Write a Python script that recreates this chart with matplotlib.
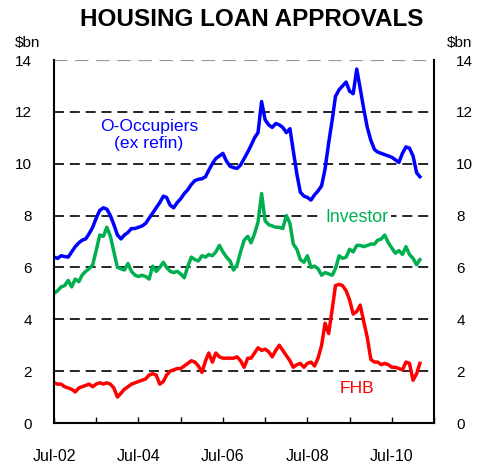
import pandas as pd
import matplotlib.pyplot as plt

plt.rcParams["font.family"] = ["Liberation Sans", "DejaVu Sans"]

# Monthly approvals, $bn, Jul-02 onwards
owner_occ = [6.4, 6.35, 6.45, 6.42, 6.4, 6.6, 6.8, 6.95, 7.05, 7.1, 7.3, 7.55,
             7.9, 8.2, 8.3, 8.25, 8.0, 7.65, 7.25, 7.1, 7.25, 7.35, 7.5, 7.5,
             7.55, 7.6, 7.7, 7.9, 8.1, 8.3, 8.5, 8.75, 8.7, 8.4, 8.3, 8.5,
             8.65, 8.85, 9.0, 9.2, 9.35, 9.4, 9.42, 9.5, 9.75, 10.0, 10.2, 10.3,
             10.4, 10.1, 9.9, 9.85, 9.82, 9.95, 10.2, 10.45, 10.7, 11.0, 11.2, 12.4,
             11.7, 11.5, 11.4, 11.55, 11.5, 11.4, 11.2, 11.35, 10.5, 9.6, 8.9, 8.75,
             8.7, 8.6, 8.8, 8.95, 9.15, 9.8, 10.8, 11.7, 12.6, 12.85, 13.0, 13.15,
             12.8, 12.7, 13.65, 12.9, 12.1, 11.4, 10.9, 10.55, 10.45, 10.4, 10.35, 10.3,
             10.25, 10.15, 10.05, 10.4, 10.65, 10.6, 10.3, 9.65, 9.5]
investor = [5.0, 5.1, 5.25, 5.3, 5.5, 5.25, 5.55, 5.45, 5.7, 5.85, 5.95, 6.1,
            6.65, 7.25, 7.2, 7.55, 7.2, 6.6, 6.0, 5.95, 5.9, 6.15, 5.85, 5.7,
            5.65, 5.7, 5.65, 5.55, 6.05, 5.85, 6.0, 6.2, 6.0, 5.85, 5.8, 5.85,
            5.75, 5.6, 6.05, 6.4, 6.3, 6.25, 6.45, 6.4, 6.5, 6.45, 6.6, 6.85,
            6.6, 6.4, 6.25, 5.9, 6.1, 6.6, 7.05, 7.2, 6.95, 7.3, 7.75, 8.85,
            7.8, 7.65, 7.6, 7.55, 7.55, 7.5, 8.0, 7.7, 6.9, 6.7, 6.3, 6.2,
            6.45, 6.0, 6.05, 5.95, 5.7, 5.8, 5.75, 5.7, 5.95, 6.45, 6.35, 6.4,
            6.7, 6.6, 6.85, 6.85, 6.8, 6.85, 6.9, 6.9, 7.05, 7.1, 7.25, 6.95,
            6.75, 6.55, 6.65, 6.5, 6.8, 6.5, 6.35, 6.1, 6.3]
fhb = [1.55, 1.5, 1.5, 1.4, 1.35, 1.3, 1.2, 1.35, 1.4, 1.45, 1.5, 1.4,
       1.5, 1.55, 1.5, 1.55, 1.5, 1.35, 1.0, 1.15, 1.3, 1.4, 1.5, 1.55,
       1.6, 1.65, 1.7, 1.85, 1.9, 1.85, 1.5, 1.6, 1.85, 2.0, 2.05, 2.1,
       2.1, 2.2, 2.3, 2.4, 2.35, 2.2, 1.95, 2.4, 2.7, 2.35, 2.7, 2.55,
       2.5, 2.5, 2.5, 2.5, 2.55, 2.4, 2.15, 2.5, 2.5, 2.7, 2.9, 2.8,
       2.85, 2.75, 2.55, 2.8, 3.0, 2.8, 2.6, 2.4, 2.15, 2.25, 2.3, 2.15,
       2.3, 2.35, 2.2, 2.5, 3.0, 3.85, 3.45, 4.4, 5.3, 5.35, 5.3, 5.1,
       4.75, 4.2, 4.3, 4.55, 3.9, 3.3, 2.45, 2.35, 2.35, 2.25, 2.3, 2.25,
       2.15, 2.15, 2.1, 2.05, 2.35, 2.3, 1.65, 1.9, 2.3]

dates = pd.date_range("2002-07-01", periods=len(owner_occ), freq="MS")
tick_dates = pd.date_range("2002-07-01", "2011-07-01", freq="12MS")
tick_labels = ["Jul-02", "", "Jul-04", "", "Jul-06", "", "Jul-08", "", "Jul-10", ""]
y_ticks = [0, 2, 4, 6, 8, 10, 12, 14]

fig = plt.figure(figsize=(4.85, 4.67), dpi=100)
ax = fig.add_axes([0.1113, 0.0942, 0.7835, 0.7773])

ax.plot(dates, owner_occ, color="#0000FF", lw=2.5)
ax.plot(dates, investor, color="#00B050", lw=2.5)
ax.plot(dates, fhb, color="#FF0000", lw=2.5)

ax.set_xlim(tick_dates[0], tick_dates[-1])
ax.set_ylim(0, 14)
ax.set_xticks(tick_dates)
ax.set_xticklabels(tick_labels)
ax.set_yticks(y_ticks)

# dashed horizontal grid, grey at the top
ax.set_axisbelow(True)
ax.grid(axis="y", color="black", linestyle=(0, (6, 3.5)), lw=1.2)
grid = ax.yaxis.get_gridlines()
grid[0].set_visible(False)
grid[-1].set_color("#999999")
grid[-1].set_lw(1.6)

ax.tick_params(axis="x", direction="in", length=4, width=1, pad=19,
               labelsize=11.5, top=False)
ax.tick_params(axis="y", length=0, pad=16, labelsize=11,
               labelleft=True, labelright=True)

ax.spines["top"].set_visible(False)
for s in ["left", "right", "bottom"]:
    ax.spines[s].set_lw(1.5)

ax.text(0.25, 0.793, "O-Occupiers\n(ex refin)", transform=ax.transAxes,
        ha="center", va="center", color="#0000FF", fontsize=12.6, linespacing=1.15)
ax.text(0.797, 0.565, "Investor", transform=ax.transAxes,
        ha="center", va="center", color="#00B050", fontsize=12.8,
        bbox=dict(facecolor="white", edgecolor="none", pad=1.5))
ax.text(0.797, 0.094, "FHB", transform=ax.transAxes,
        ha="center", va="center", color="#FF0000", fontsize=12.6)

fig.text(252 / 485, 1 - 20 / 467, "HOUSING LOAN APPROVALS", ha="center",
         va="center", fontsize=17.5, fontweight="bold")
fig.text(15 / 485, 1 - 43 / 467, "$bn", ha="left", va="center", fontsize=11)
fig.text(447 / 485, 1 - 43 / 467, "$bn", ha="left", va="center", fontsize=11)

fig.savefig("out.png", dpi=100)
